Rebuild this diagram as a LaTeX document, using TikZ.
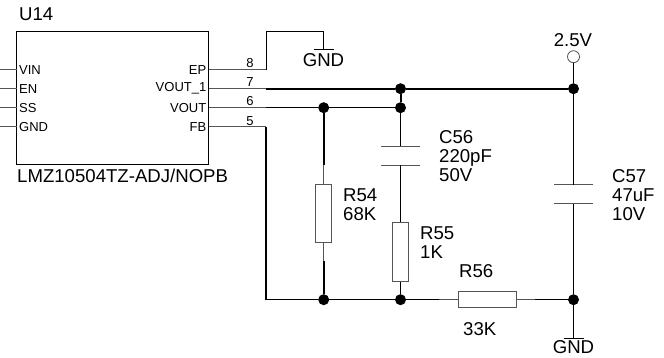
\documentclass[tikz,border=0pt]{standalone}
\usepackage{fontspec}
\setmainfont{Liberation Sans}
\usepackage{tikz}
\usetikzlibrary{positioning}
\definecolor{PinGrey}{HTML}{555555}
\tikzset{
  % Text styles
  partlabel/.style={font=\fontsize{18.6}{20}\selectfont, inner sep=0pt, align=left, anchor=west},
  stacklabel/.style={font=\fontsize{18.6}{20}\selectfont, inner sep=0pt, align=left, anchor=west, text height=13pt, text depth=0pt},
  pinname/.style={font=\fontsize{13}{15}\selectfont, inner sep=0pt},
  pinnum/.style={font=\fontsize{13}{15}\selectfont, inner sep=0pt},
  % Box styles
  chipbox/.style={rectangle, draw=black, line width=0.9pt, minimum width=192pt, minimum height=133.5pt, inner sep=0pt},
  resv/.style={rectangle, draw=PinGrey, line width=1pt, fill=white, minimum width=15.5pt, minimum height=58pt, inner sep=0pt},
  resh/.style={rectangle, draw=PinGrey, line width=1pt, fill=white, minimum width=58pt, minimum height=15.5pt, inner sep=0pt},
  % Wire styles
  pinwire/.style={line width=1pt, PinGrey},
  wire/.style={line width=1pt, black},
  busy/.style={line width=1.2pt, black},
  heavy/.style={line width=2pt, black},
  plate/.style={line width=1pt, PinGrey},
  % Node styles
  dot/.style={circle, fill=black, minimum size=11pt, inner sep=0pt},
  testpin/.style={circle, draw=PinGrey, line width=0.8pt, fill=white, minimum size=12pt, inner sep=0pt}
}
\begin{document}
\begin{tikzpicture}[x=1pt, y=-1pt]
  \useasboundingbox (0,0) rectangle (664,358);

  % U14
  \node[chipbox] (chip) at (112.5,98.2) {};
  \node[partlabel] (u14) at (19,14) {U14};
  \node[partlabel] (partno) at (17,176) {LMZ10504TZ-ADJ/NOPB};

  % Left pins
  \foreach \y/\name/\txt in {69.7/vin/VIN, 88.7/en/EN, 107.7/ss/SS, 127/gnd/GND} {
    \coordinate (\name-l) at (0,\y);
    \coordinate (\name-r) at (16.5,\y);
    \draw[pinwire] (\name-l) -- (\name-r);
    \node[pinname, anchor=west] (\name-t) at (19,\y) {\txt};
  }

  % Right pins
  \foreach \y/\name/\txt/\num in {69.7/ep/EP/8, 88.7/voutone/VOUT\_1/7, 107.7/vout/VOUT/6, 127/fb/FB/5} {
    \coordinate (\name-a) at (208.5,\y);
    \coordinate (\name-b) at (266,\y);
    \draw[pinwire] (\name-a) -- (\name-b);
    \node[pinname, anchor=east] (\name-t) at (206.5,\y) {\txt};
    \node[pinnum, anchor=south] (\name-n) at (250,\y-1.5) {\num};
  }

  % Junctions
  \node[dot] (j1) at (400.5,88.7) {};
  \node[dot] (j2) at (573.5,88.7) {};
  \node[dot] (j3) at (323.7,107.7) {};
  \node[dot] (j4) at (400.5,107.7) {};
  \node[dot] (j5) at (323.7,299.7) {};
  \node[dot] (j6) at (400.5,299.7) {};
  \node[dot] (j7) at (573.5,299.7) {};

  % Resistors
  \node[resv] (r54) at (323.7,213.6) {};
  \node[resv] (r55) at (400.5,252) {};
  \node[resh] (r56) at (487.3,299.7) {};
  \node[stacklabel] (r54t) at (343,195) {R54};
  \node[stacklabel] (r54v) at (343,214) {68K};
  \node[stacklabel] (r55t) at (420,233) {R55};
  \node[stacklabel] (r55v) at (420,252) {1K};
  \node[stacklabel] (r56t) at (459,271) {R56};
  \node[stacklabel] (r56v) at (463,329) {33K};

  % Capacitors
  \coordinate (c56a) at (400.5,146.5);
  \coordinate (c56b) at (400.5,165.5);
  \coordinate (c57a) at (573.5,184.7);
  \coordinate (c57b) at (573.5,204);
  \foreach \c in {c56a, c56b, c57a, c57b} {
    \draw[plate] ([xshift=-19.5pt]\c) -- ([xshift=19.5pt]\c);
  }
  \node[stacklabel] (c56t) at (439,137) {C56};
  \node[stacklabel] (c56v) at (439,156) {220pF};
  \node[stacklabel] (c56r) at (439,175) {50V};
  \node[stacklabel] (c57t) at (612,176) {C57};
  \node[stacklabel] (c57v) at (612,195) {47uF};
  \node[stacklabel] (c57r) at (612,214) {10V};

  % Ground symbols
  \coordinate (g1) at (323.5,50);
  \coordinate (g2) at (573.5,338);
  \draw[wire] ([xshift=-10pt]g1) -- ([xshift=10pt]g1);
  \draw[wire] ([xshift=-10pt]g2) -- ([xshift=10pt]g2);
  \node[partlabel, anchor=center] (g1t) at (323.5,60) {GND};
  \node[partlabel, anchor=center] (g2t) at (573.5,347.5) {GND};

  % 2.5V rail
  \node[testpin] (tp) at (573.5,56.7) {};
  \node[partlabel, anchor=center] (tpt) at (573,40) {2.5V};

  % Wires
  \draw[wire] (ep-b) -- (266,31.5) -- (323.5,31.5) -- (g1);
  \draw[heavy] (voutone-b) -- (j1);
  \draw[heavy] (j1) -- (j2);
  \draw[busy] (vout-b) -- (j3);
  \draw[busy] (j3) -- (j4);
  \draw[heavy] (j1) -- (j4);
  \draw[busy] (fb-b) |- (j5);
  \draw[busy] (j5) -- (j6);
  \draw[wire] (tp) -- (j2);
  \draw[wire] (j2) -- (c57a);
  \draw[wire] (c57b) -- (j7);
  \draw[wire] (j7) -- (g2);
  \draw[wire] (j4) -- (c56a);
  \draw[wire] (c56b) -- (r55);
  \draw[wire] (r55) -- (j6);

  % R54 leads, heavy part then grey stub
  \coordinate (r54u) at (323.7,165);
  \coordinate (r54d) at (323.7,261);
  \draw[heavy] (j3) -- (r54u);
  \draw[pinwire] (r54u) -- (r54);
  \draw[pinwire] (r54) -- (r54d);
  \draw[heavy] (r54d) -- (j5);

  % R56 leads
  \coordinate (r56l) at (439,299.7);
  \coordinate (r56r) at (535,299.7);
  \draw[busy] (j6) -- (r56l);
  \draw[pinwire] (r56l) -- (r56);
  \draw[pinwire] (r56) -- (r56r);
  \draw[busy] (r56r) -- (j7);
\end{tikzpicture}
\end{document}
